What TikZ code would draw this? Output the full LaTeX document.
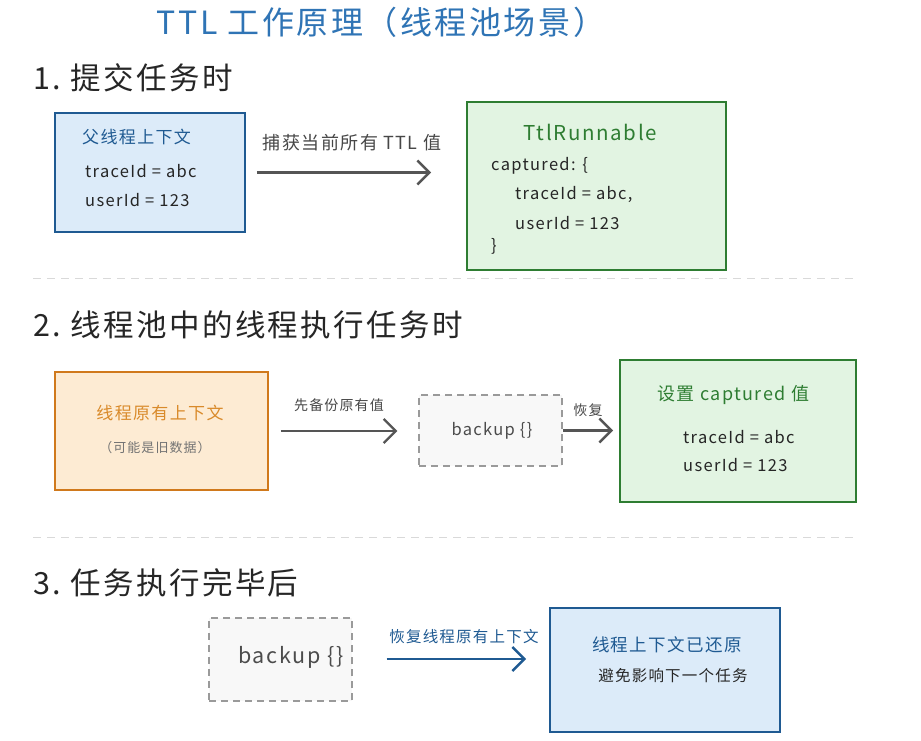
\documentclass[tikz,border=0pt]{standalone}
\usepackage{fontspec}
\setmainfont{Noto Sans CJK SC}[LetterSpace=8]
\usetikzlibrary{arrows.meta}
\definecolor{tblue}{HTML}{2F74B5}
\definecolor{bstroke}{HTML}{1F5A92}
\definecolor{bfill}{HTML}{DCEBF9}
\definecolor{gstroke}{HTML}{2E7D32}
\definecolor{gfill}{HTML}{E2F4E2}
\definecolor{ostroke}{HTML}{D0791C}
\definecolor{ofill}{HTML}{FDEBD3}
\definecolor{otext}{HTML}{D98A2A}
\definecolor{txt}{HTML}{262626}
\definecolor{arrgray}{HTML}{555555}
\definecolor{dgray}{HTML}{9A9A9A}
\definecolor{dfill}{HTML}{F8F8F8}
\tikzset{
  boxb/.style={draw=bstroke, fill=bfill, line width=1.8pt},
  boxg/.style={draw=gstroke, fill=gfill, line width=1.8pt},
  boxo/.style={draw=ostroke, fill=ofill, line width=1.8pt},
  boxd/.style={draw=dgray, fill=dfill, line width=1.2pt, dash pattern=on 7pt off 5pt},
  sep/.style={draw=black!15, line width=1pt, dash pattern=on 8pt off 6pt},
  arr/.style={draw=arrgray, line width=2.6pt, -{Straight Barb[length=12pt,width=24pt,line width=2.4pt]}},
  arrb/.style={draw=bstroke, line width=2.6pt, -{Straight Barb[length=12pt,width=24pt,line width=2.4pt]}},
  head/.style={font=\fontsize{30.5}{33}\selectfont, text=txt, anchor=west, inner sep=0pt},
  body/.style={font=\fontsize{16.5}{19}\selectfont, text=txt, inner sep=0pt},
  lbl/.style={font=\fontsize{18}{20}\selectfont, text=txt!85, inner sep=0pt},
}
\begin{document}
\begin{tikzpicture}[x=1pt,y=-1pt]
\useasboundingbox[fill=white] (0,0) rectangle (921,741);

\node[font=\fontsize{32}{35}\selectfont, text=tblue, inner sep=0pt] (title) at (381,22) {TTL\ 工作原理（线程池场景）};

% section 1
\node[head] (h1) at (33,78) {1.\ 提交任务时};
\node[boxb, minimum width=190pt, minimum height=119pt] (ctx1) at (150,172.5) {};
\node[body, font=\fontsize{17}{19}\selectfont, text=bstroke, anchor=west] (ctx1t) at (82,137) {父线程上下文};
\node[body, anchor=west] (ctx1a) at (85,171) {traceId = abc};
\node[body, anchor=west] (ctx1b) at (85,200) {userId = 123};

\node[boxg, minimum width=259pt, minimum height=168pt] (ttl) at (596.5,186) {};
\node[font=\fontsize{20.5}{23}\selectfont, text=gstroke, inner sep=0pt] (ttlt) at (590,132) {TtlRunnable};
\node[body, anchor=west] (ttla) at (491,166) {captured: \{};
\node[body, anchor=west] (ttlb) at (515,194) {traceId = abc,};
\node[body, anchor=west] (ttlc) at (515,223) {userId = 123};
\node[body, anchor=west] (ttld) at (491,246) {\}};

\draw[arr] ([xshift=11pt]ctx1.east) -- ([xshift=-35pt]ctx1.east -| ttl.west) coordinate (a1e);
\node[lbl] (a1l) at (352,143) {捕获当前所有\ TTL\ 值};

\draw[sep] (33,278) -- (855,278);

% section 2
\node[head] (h2) at (33,325) {2.\ 线程池中的线程执行任务时};
\node[boxo, minimum width=213pt, minimum height=118pt] (old) at (161.5,431) {};
\node[font=\fontsize{17}{19}\selectfont, text=otext, inner sep=0pt] (oldt) at (160,413) {线程原有上下文};
\node[font=\fontsize{13}{15}\selectfont, text=black!55, inner sep=0pt] (olds) at (155,448) {（可能是旧数据）};

\node[boxd, minimum width=143pt, minimum height=71pt] (bk1) at (490.5,430.5) {};
\node[body, text=black!70] (bk1t) at (492,431) {backup \{\}};

\node[boxg, minimum width=236pt, minimum height=142pt] (set) at (738,431) {};
\node[font=\fontsize{18}{20}\selectfont, text=gstroke, inner sep=0pt, anchor=west] (sett) at (657,395) {设置\ captured\ 值};
\node[body, anchor=west] (seta) at (683,437) {traceId = abc};
\node[body, anchor=west] (setb) at (683,465) {userId = 123};

\draw[arr] ([xshift=12pt]old.east) -- ([xshift=-21pt]old.east -| bk1.west);
\node[lbl, font=\fontsize{14}{16}\selectfont] (a2l) at (339,405) {先备份原有值};
\draw[arr] (bk1.east) -- ([xshift=-6pt]bk1.east -| set.west);
\node[lbl, font=\fontsize{14}{16}\selectfont] (a3l) at (588,410) {恢复};

\draw[sep] (33,537) -- (855,537);

% section 3
\node[head] (h3) at (33,583) {3.\ 任务执行完毕后};
\node[boxd, minimum width=143pt, minimum height=83pt] (bk2) at (280.5,659.5) {};
\node[font=\fontsize{21.5}{24}\selectfont, text=black!70, inner sep=0pt] (bk2t) at (291,657) {backup \{\}};

\node[boxb, minimum width=230pt, minimum height=124pt] (done) at (665,670) {};
\node[font=\fontsize{17.5}{20}\selectfont, text=bstroke, inner sep=0pt] (donet) at (667,645) {线程上下文已还原};
\node[font=\fontsize{15.5}{18}\selectfont, text=txt, inner sep=0pt] (dones) at (673,676) {避免影响下一个任务};

\draw[arrb] ([xshift=34pt,yshift=0.5pt]bk2.east) -- ([xshift=-23pt,yshift=0.5pt]bk2.east -| done.west);
\node[lbl, text=bstroke, font=\fontsize{15.5}{18}\selectfont] (a4l) at (464,637) {恢复线程原有上下文};
\end{tikzpicture}
\end{document}
